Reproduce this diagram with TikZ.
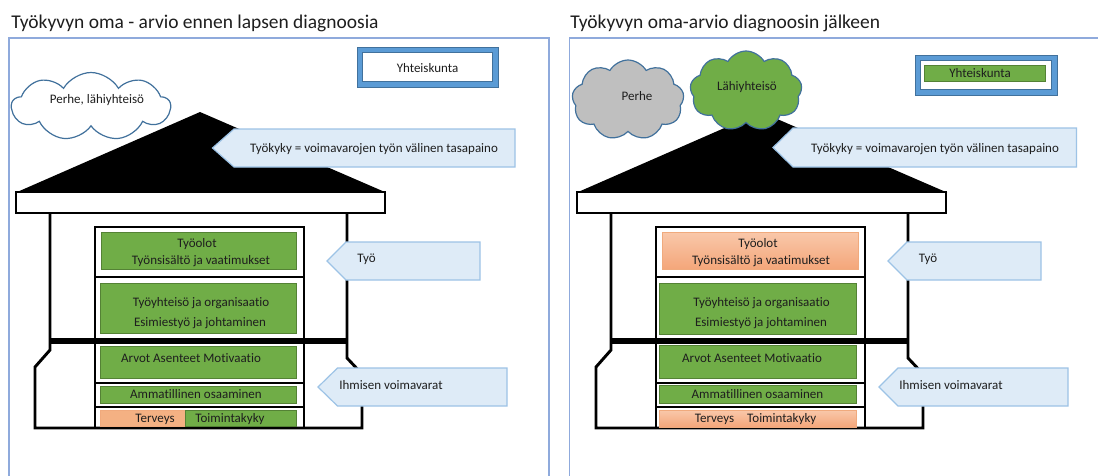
\documentclass[tikz,border=0pt]{standalone}
\usepackage{fontspec}
\setmainfont{Carlito}[Ligatures=NoCommon]
\usetikzlibrary{shapes.symbols}

\definecolor{framebl}{RGB}{143,170,220}
\definecolor{boxgreen}{RGB}{112,173,71}
\definecolor{greenedge}{RGB}{84,130,53}
\definecolor{boxorange}{RGB}{244,177,131}
\definecolor{orangetop}{RGB}{249,200,170}
\definecolor{orangebot}{RGB}{244,166,122}
\definecolor{orangeedge}{RGB}{240,170,125}
\definecolor{callfill}{RGB}{222,235,247}
\definecolor{calledge}{RGB}{157,195,230}
\definecolor{bandblue}{RGB}{91,155,213}
\definecolor{bandedge}{RGB}{65,113,156}
\definecolor{cloudgray}{RGB}{191,191,191}
\definecolor{ink}{RGB}{30,30,30}

\tikzset{
  label txt/.style={font=\fontsize{9.75}{11}\selectfont, text=ink, inner sep=0pt, anchor=base},
  tag txt/.style={label txt, anchor=base west},
  heading/.style={font=\fontsize{14.6}{17}\selectfont, text=ink, inner sep=0pt, anchor=base west},
  panel/.style={draw=framebl, line width=1.1pt},
  wall/.style={draw=black, line width=2.2pt, line join=miter},
  floorline/.style={draw=black, line width=3.8pt},
  greenbox/.style={fill=boxgreen, draw=greenedge, line width=0.5pt},
  orangebox/.style={fill=boxorange, draw=orangeedge, line width=0.5pt},
  orangegrad/.style={top color=orangetop, bottom color=orangebot, draw=orangeedge, line width=0.5pt},
  tagshape/.style={fill=callfill, draw=calledge, line width=0.9pt, line join=miter},
  band/.style={fill=bandblue, draw=bandedge, line width=0.5pt},
  puff/.style={cloud, cloud puffs=9, cloud puff arc=120, cloud ignores aspect,
               draw=bandedge, line width=0.9pt, inner sep=0pt},
}

% left-pointing tag: tip x, centre y, body start x, right x, half height
\newcommand\tagshape[5]{%
  \draw[tagshape] (#1,#2) -- (#3,{#2-#5}) -- (#4,{#2-#5}) -- (#4,{#2+#5}) -- (#3,{#2+#5}) -- cycle;}

% roof, eave, walls and the frame of the column of boxes
\newcommand\houseframe{%
  \fill[black] (200,112) -- (16,192.5) -- (386,192.5) -- cycle;
  \draw[wall, fill=white] (16,192) rectangle (385,213);
  \draw[wall] (50,213) -- (50,350) -- (35,367) -- (35,428) -- (362,428)
              -- (362,374) -- (347,358) -- (347,213);
  \draw[floorline] (50,341) -- (347,341);
  \draw[wall] (95,227) rectangle (304,428);
  \draw[wall] (95,277) -- (304,277);
  \draw[wall] (95,383) -- (304,383);
  \draw[wall] (95,407) -- (304,407);
}

\begin{document}
\begin{tikzpicture}[x=0.75pt,y=-0.75pt]
\useasboundingbox (0,0) rectangle (1098,475);
\clip (0,0) rectangle (1098,475);
\fill[white] (0,0) rectangle (1098,475);

% ---------------- before the diagnosis ----------------
\node[heading] (Ltitle) at (11,28) {Työkyvyn oma - arvio ennen lapsen diagnoosia};
\draw[panel] (9,38) rectangle (549,520);

\draw[band] (357,47) rectangle (498,87);
\draw[band, fill=white] (362.5,52.5) rectangle (492.5,81.5);
\node[label txt] (Lsoc) at (427.5,72.5) {Yhteiskunta};

\houseframe

\draw[greenbox] (101,232) rectangle (296,269);
\node[label txt] (LwcA) at (197,247.5) {Työolot};
\node[label txt] (LwcB) at (201,264.5) {Työnsisältö ja vaatimukset};
\draw[greenbox] (100,283) rectangle (296,333);
\node[label txt] (LorgA) at (201,306.5) {Työyhteisö ja organisaatio};
\node[label txt] (LorgB) at (200,326.5) {Esimiestyö ja johtaminen};
\draw[greenbox] (100,346) rectangle (296,378);
\node[label txt] (Lval) at (191,362.5) {Arvot Asenteet Motivaatio};
\draw[greenbox] (100,386) rectangle (296,403);
\node[label txt] (Lskill) at (196,398.5) {Ammatillinen osaaminen};
\draw[orangebox] (100,410) rectangle (185,426);
\draw[greenbox] (185,410) rectangle (296,426);
\node[label txt] (Lhealth) at (155,422) {Terveys};
\node[label txt] (Lfunc) at (230,422) {Toimintakyky};

\tagshape{212.5}{148}{234}{515}{19}
\node[label txt] (Lbal) at (374,152.5) {Työkyky = voimavarojen työn välinen tasapaino};
\tagshape{327}{261}{346}{480}{19}
\node[tag txt] (Lwork) at (357,262.5) {Työ};
\tagshape{318}{387}{337.5}{507}{19}
\node[tag txt] (Lres) at (339,389.5) {Ihmisen voimavarat};

\node[puff, fill=white, minimum width=119pt, minimum height=51pt] (Lcloud) at (91,106.5) {};
\node[label txt] (Lfam) at (97,103.5) {Perhe, lähiyhteisö};

% ---------------- after the diagnosis ----------------
\node[heading] (Rtitle) at (570,28) {Työkyvyn oma-arvio diagnoosin jälkeen};
\draw[panel] (569.5,38) rectangle (1130,520);

\draw[band] (915,55) rectangle (1057,95);
\draw[band, fill=white] (920.5,60.5) rectangle (1051.5,89.5);
\draw[greenbox] (924,65) rectangle (1045,81);
\node[label txt] (Rsoc) at (980,77.5) {Yhteiskunta};

\begin{scope}[shift={(561,0)}]
  \houseframe
\end{scope}

\draw[orangegrad] (662,232) rectangle (858,269);
\node[label txt] (RwcA) at (758,247.5) {Työolot};
\node[label txt] (RwcB) at (761,264.5) {Työnsisältö ja vaatimukset};
\draw[greenbox] (659.5,283) rectangle (856,334);
\node[label txt] (RorgA) at (761.5,306.5) {Työyhteisö ja organisaatio};
\node[label txt] (RorgB) at (761,326.5) {Esimiestyö ja johtaminen};
\draw[greenbox] (659.5,345) rectangle (856,378);
\node[label txt] (Rval) at (752,362.5) {Arvot Asenteet Motivaatio};
\draw[greenbox] (659.5,385) rectangle (856,403);
\node[label txt] (Rskill) at (757.5,398.5) {Ammatillinen osaaminen};
\draw[orangegrad] (659.5,410) rectangle (856,427);
\node[label txt] (Rhealth) at (755.6,422) {Terveys\quad Toimintakyky};

\tagshape{773}{147.5}{793}{1076.5}{19.5}
\node[label txt] (Rbal) at (935,152) {Työkyky = voimavarojen työn välinen tasapaino};
\tagshape{888}{261}{907}{1041}{19}
\node[tag txt] (Rwork) at (918.6,262.5) {Työ};
\tagshape{879}{387}{898}{1068}{19}
\node[tag txt] (Rres) at (899,389.5) {Ihmisen voimavarat};

\node[puff, fill=cloudgray, minimum width=84pt, minimum height=60pt] (Rfamcloud) at (628,100) {};
\node[label txt] (Rfam) at (637,100.5) {Perhe};
\node[puff, fill=boxgreen, minimum width=84pt, minimum height=60pt] (Rcomcloud) at (746,91) {};
\node[label txt] (Rcom) at (747,90) {Lähiyhteisö};
\end{tikzpicture}
\end{document}
